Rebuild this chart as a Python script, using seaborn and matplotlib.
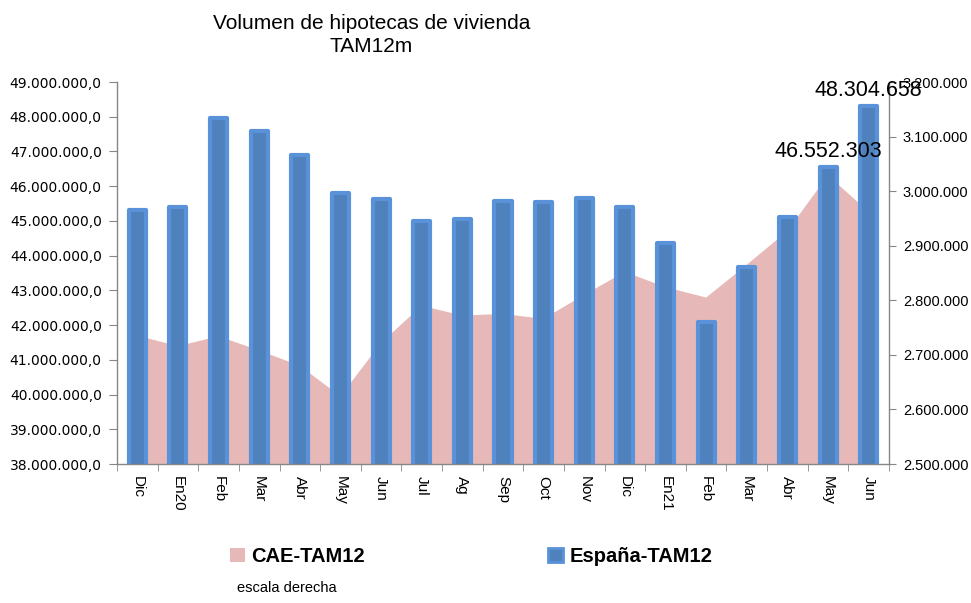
import numpy as np
import pandas as pd
import seaborn as sns
import matplotlib.pyplot as plt
from matplotlib.patches import Patch
from matplotlib.ticker import FuncFormatter, MultipleLocator

sns.set_style("ticks")
plt.rcParams['font.family'] = ['Liberation Sans', 'DejaVu Sans']
plt.rcParams['text.color'] = 'black'

# Data
months = ['Dic', 'En20', 'Feb', 'Mar', 'Abr', 'May', 'Jun', 'Jul', 'Ag', 'Sep', 'Oct',
          'Nov', 'Dic', 'En21', 'Feb', 'Mar', 'Abr', 'May', 'Jun']
espana = [45300000, 45400000, 47950000, 47580000, 46910000, 45800000, 45630000,
          45010000, 45050000, 45570000, 45540000, 45660000, 45400000, 44350000,
          42090000, 43660000, 45110000, 46552303, 48304658]
cae = [2735000, 2716000, 2734000, 2708000, 2680000, 2624000, 2722000, 2790000,
       2772000, 2775000, 2766000, 2810000, 2852000, 2824000, 2805000, 2865000,
       2927000, 3029000, 2962000]
labelled = [17, 18]  # bars with a value label

df = pd.DataFrame({'pos': range(len(months)), 'mes': months,
                   'espana': espana, 'cae': cae})

pink = '#E6B9B8'
blue = '#4F81BD'
blue_edge = '#5A92D9'
grey = '#868686'

fig = plt.figure(figsize=(9.71, 6.03), dpi=100)
ax = fig.add_axes([117 / 971, 1 - 464 / 603, 772 / 971, 382 / 603])
ax2 = ax.twinx()

# Area (right scale)
ax2.fill_between(df['pos'], df['cae'], 0, color=pink, lw=0)
ax2.set_ylim(2500000, 3200000)

# Bars (left scale)
sns.barplot(data=df, x='pos', y='espana', ax=ax, color=blue, saturation=1,
            width=0.42, errorbar=None, edgecolor=blue_edge, linewidth=3)
for p in ax.patches:
    p.set_joinstyle('round')
ax.set_zorder(ax2.get_zorder() + 1)
ax.patch.set_visible(False)

ax.set_xlim(-0.5, len(months) - 0.5)
ax.set_ylim(38000000, 49000000)
ax.set_xlabel('')
ax.set_ylabel('')

# y axes formatting
ax.yaxis.set_major_locator(MultipleLocator(1000000))
ax.yaxis.set_major_formatter(FuncFormatter(
    lambda v, _: f"{v:,.1f}".replace(',', 'X').replace('.', ',').replace('X', '.')))
ax2.yaxis.set_major_locator(MultipleLocator(100000))
ax2.yaxis.set_major_formatter(FuncFormatter(lambda v, _: f"{v:,.0f}".replace(',', '.')))

ax.tick_params(axis='y', left=True, length=6, color=grey, pad=5, labelsize=10,
               labelfontfamily='DejaVu Sans', labelcolor='black')
ax2.tick_params(axis='y', right=True, length=5, color=grey, pad=5, labelsize=10.5,
                labelcolor='black')

# x axis: labels at centers, tick marks between categories
ax.set_xticks(range(len(months)))
ax.set_xticklabels(months, rotation=-90, fontsize=11, color='black')
ax.tick_params(axis='x', which='major', length=0, pad=9)
ax.set_xticks(np.arange(-0.5, len(months), 1), minor=True)
ax.tick_params(axis='x', which='minor', bottom=True, length=5, color=grey)

for a in (ax, ax2):
    a.spines['top'].set_visible(False)
    for s in a.spines.values():
        s.set_color(grey)
        s.set_linewidth(1)
ax.spines['right'].set_visible(False)
ax2.spines['left'].set_visible(False)
ax2.spines['bottom'].set_visible(False)

# value labels
for i in labelled:
    ax.annotate(f"{espana[i]:,}".replace(',', '.'), xy=(i, espana[i]),
                xytext=(0, 7.5), textcoords='offset points', ha='center',
                va='baseline', fontsize=15.5, color='black', annotation_clip=False)

fig.text(371.5 / 971, 1 - 14 / 603, "Volumen de hipotecas de vivienda\nTAM12m",
         ha='center', va='top', fontsize=15, linespacing=1.25, color='black')

# legend
leg_kw = dict(loc='center left', frameon=False, borderpad=0, borderaxespad=0,
              handlelength=0.75, handleheight=0.75, handletextpad=0.3,
              labelcolor='black', prop={'weight': 'bold', 'size': 14.5})
fig.legend([Patch(facecolor=pink, edgecolor='none')], ['CAE-TAM12'],
           bbox_to_anchor=(230 / 971, 1 - 556.5 / 603), **leg_kw)
fig.legend([Patch(facecolor=blue, edgecolor=blue_edge, linewidth=2)], ['España-TAM12'],
           bbox_to_anchor=(548 / 971, 1 - 556.5 / 603), **leg_kw)

fig.text(237 / 971, 1 - 591.7 / 603, 'escala derecha', fontsize=10.5,
         va='baseline', color='black')

plt.savefig('out.png', dpi=100)
plt.close()
